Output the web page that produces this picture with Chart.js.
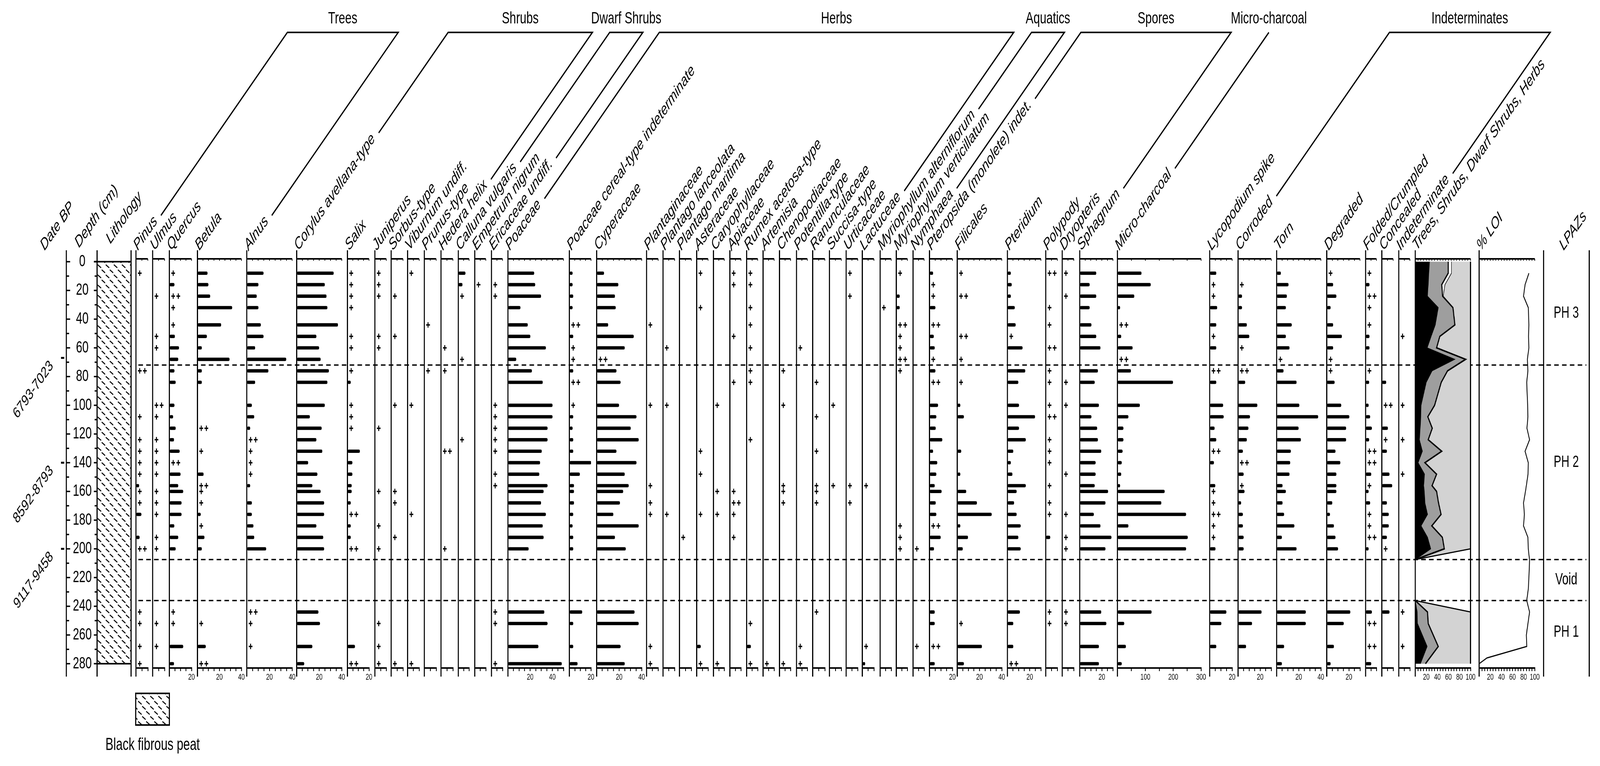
<!DOCTYPE html>
<html>
<head>
<meta charset="utf-8">
<script src="https://cdn.jsdelivr.net/npm/chart.js@4.4.1/dist/chart.umd.min.js"></script>
<style>
html, body { margin: 0; padding: 0; background: #fff; overflow: hidden; }
#stage { position: relative; overflow: hidden; }
#wrap { position: absolute; left: 0; top: 0; width: 5932px; height: 1962px; overflow: hidden; transform-origin: 0 0; }
#wrap canvas { position: absolute; z-index: 1; }
#labels { position: absolute; left: 0; top: 0; z-index: 2; }
</style>
</head>
<body>
<div id="stage"><div id="wrap"><svg id="labels" xmlns="http://www.w3.org/2000/svg" width="5932" height="1962"></svg></div></div>
<script>
// '+' = present (<1%), '++' = two finds, _ = not recorded
const P = '+', PP = '++', _ = 0;

const depths = [8,16,24,32,44,52,60,68,76,84,100,108,116,124,132,140,148,156,160,168,176,184,192,200,244,252,268,280];

const pinus = [P,_,_,_,_,_,_,_,PP,_, _,P,_,P,P,P,P,2.6,P,P, 4.5,_,3.0,PP,P,P,P,P];
const ulmus = [_,_,P,_,_,P,P,_,_,_, PP,P,_,P,P,P,P,_,P,P, P,_,P,P,_,P,P,_];
const quercus = [P,4.5,PP,P,P,4.9,8.6,7.9,4.5,5.6, 4.5,3.3,5.6,4.1,9.2,PP,10,7.9,12.4,10.9, 10.9,4.4,7.9,5.6,P,P,12.4,4.1];
const betula = [9.1,9.9,11.5,31.5,21.5,8.5,3.9,29.1,3.9,3.9, _,_,PP,_,P,_,5.5,PP,P,P, 2.9,P,6.3,3.9,_,P,7.5,PP];
const alnus = [14.7,10.2,8.7,10.2,12.3,14.7,7.3,34.7,19,7.3, 4.4,6.5,2.9,PP,P,P,P,2.9,_,4.4, 4.4,5.8,6.5,17,PP,P,P,_];
const corylus = [32.8,24.9,26.4,27.2,36.6,17.4,19.8,21.2,28.5,27.2, 24.9,11.6,22.1,17.4,22.7,10.1,18.3,13.8,21.2,24.3, 24.3,17.4,23.5,24.3,19.2,20.6,13.8,6.6];
const salix = [P,P,P,P,_,P,P,_,P,3.0, P,P,P,_,11.5,4.5,4.5,3.9,3.9,3.0, PP,3.0,3.0,PP,_,_,6.9,PP];
const juniperus = [P,P,P,_,_,P,P,_,_,_, _,_,P,_,_,_,_,_,P,_, _,P,_,P,_,P,P,P];
const sorbus = [_,_,P,_,_,P,_,_,_,_, P,_,_,_,_,_,_,_,P,P, _,_,P,_,_,_,_,P];
const viburnum = [P,_,_,_,_,_,_,_,_,_, P,_,_,_,_,_,_,_,_,_, P,_,_,_,_,_,_,P];
const prunus = [_,_,_,_,P,_,_,_,P,_, _,_,_,_,_,_,_,_,_,_, _,_,_,_,_,_,_,_];
const hedera = [_,_,_,_,_,_,P,_,P,_, _,_,_,_,PP,_,_,_,_,_, _,_,_,P,_,_,_,_];
const calluna = [6.6,3.8,P,_,_,_,_,P,_,_, _,_,_,P,_,_,_,_,_,_, _,_,_,_,_,_,_,_];
const empetrum = [_,P,_,_,_,_,_,_,_,_, _,_,_,_,_,_,_,_,_,_, _,_,_,_,_,_,_,_];
const ericaceae = [_,P,P,_,_,_,_,_,_,_, P,P,P,P,P,_,P,P,_,_, _,_,_,_,P,P,_,P];
const poaceae = [23.6,24.5,29.8,11.2,17.8,20.1,34.1,7.4,21.5,31.3, 40.1,40.1,35.6,35.6,30.4,28.9,28.2,35.6,32.1,29.8, 34.1,31.3,32.1,18.6,32.7,35.6,27.4,48.4];
const cereal = [2.9,2.9,3.5,2.9,PP,3.5,P,P,3.5,PP, P,3.5,2.9,3.5,3.5,20.2,9.6,4.2,4.2,4.2, 3.5,2.9,3.5,3.5,11.8,3.5,3.5,7.5];
const cyperaceae = [6.5,19.2,16.2,16.9,10.2,32.9,24.9,PP,17.5,21.2, 19.8,35.3,30.2,37.3,17.5,35.3,24.9,28.4,23.5,20.6, 14.8,37.3,16.2,25.8,33.6,37.3,21.2,24.9];
const plantaginaceae = [_,_,_,_,P,_,_,_,_,_, P,_,_,_,_,_,_,P,_,P, P,_,_,_,_,_,P,P];
const plantagoLanc = [_,_,_,_,_,_,P,_,_,_, P,_,_,_,_,_,_,_,_,_, P,_,_,_,_,_,_,_];
const plantagoMar = [_,_,_,_,_,_,_,_,_,_, _,_,_,_,_,_,_,_,_,_, _,_,P,_,_,_,_,_];
const asteraceae = [P,_,_,P,_,_,_,_,_,_, _,_,_,_,P,_,P,_,_,_, P,_,_,_,_,_,3.5,P];
const caryophyllaceae = [_,_,_,_,_,_,_,_,_,_, P,_,_,_,_,_,_,_,P,_, P,_,_,_,_,_,_,P];
const apiaceae = [P,P,_,_,_,P,_,_,_,P, _,_,_,_,_,_,_,_,P,PP, P,_,P,_,_,_,_,_];
const rumex = [P,P,_,P,P,_,P,_,P,P, _,_,_,P,_,_,_,_,_,_, _,_,_,_,_,P,3.8,P];
const artemisia = [_,_,_,_,_,_,_,_,_,_, _,_,_,_,_,_,_,_,_,_, _,_,_,_,_,_,_,P];
const chenopodiaceae = [_,_,_,_,_,_,_,_,P,_, P,_,_,_,_,_,_,P,P,P, _,_,_,_,_,_,_,P];
const potentilla = [_,_,_,_,_,_,P,_,_,_, _,_,_,_,_,_,_,_,_,_, _,_,_,_,_,_,P,P];
const ranunculaceae = [_,_,_,_,_,_,_,_,_,P, _,P,_,_,P,_,_,P,P,P, _,_,_,_,P,_,_,_];
const succisa = [_,_,_,_,_,_,_,_,_,_, P,_,_,_,_,_,_,P,_,_, _,_,_,_,_,_,_,_];
const urticaceae = [P,_,P,_,_,_,_,_,_,_, _,_,_,_,_,_,_,P,_,P, _,_,_,_,_,_,_,_];
const lactuceae = [_,_,_,_,_,_,_,_,_,_, _,_,_,_,_,_,_,P,_,_, _,_,_,_,_,_,P,2.4];
const myrAlt = [_,_,_,P,_,_,_,_,_,_, _,_,_,_,_,_,_,_,_,_, _,_,_,_,_,_,_,_];
const myrVert = [P,_,3.0,3.0,PP,P,P,PP,P,_, _,_,_,_,_,_,_,_,_,_, _,P,P,P,_,_,_,_];
const nymphaea = [_,_,_,_,_,_,_,_,_,_, _,_,_,_,_,_,_,_,_,_, _,_,_,P,_,_,P,_];
const pteropsida = [3.1,P,P,5.1,PP,3.7,4.5,P,5.1,PP, 7.4,5.9,5.4,11.1,3.1,6.7,5.9,4.5,10.5,5.4, 5.9,PP,9.7,3.9,4.5,4.5,PP,4.5];
const filicales = [P,_,PP,_,_,PP,_,P,_,P, 2.7,5.9,_,_,3.5,_,2.7,_,8.0,17.6, 30.9,2.7,9.6,4.9,_,P,22.1,5.9];
const pteridium = [3.0,3.8,3.0,6.5,7.3,P,13.5,_,15.9,9.7, 10.3,24.7,10.3,16.4,5.2,3.0,4.4,16.4,8.2,5.9, 8.2,11.8,9.7,11.8,11.1,5.2,5.2,PP];
const polypody = [PP,_,_,P,P,_,PP,_,P,P, P,PP,_,P,P,P,_,P,_,P, P,_,3.8,_,P,P,_,_];
const dryopteris = [P,_,P,_,_,_,_,_,_,P, P,_,_,_,_,_,P,_,_,_, P,_,P,P,P,P,_,_];
const sphagnum = [14.9,8.9,14.9,8.9,10.5,14.9,18.7,_,16.4,13.5, 17.3,10.5,15.7,16.4,19.4,14.3,14.3,13.5,25.6,23.2, 12.7,18.7,28.6,23.2,19.4,24.0,17.3,17.3];
const charcoal = [86,119,60,9,PP,13,54,PP,48,199, 80,39,21,21,18,15,13,9,169,157, 246,39,252,246,122,24,30,15];
const lycopodium = [5.8,P,P,6.6,5.8,P,5.8,_,PP,5.8, 11.9,12.4,4.3,5.8,PP,3.7,_,4.9,P,P, PP,P,P,5.1,14.8,10.3,5.8,_];
const corroded = [_,P,3.5,3.5,7.9,10.1,P,_,PP,6.4, 17.4,10.7,9.3,7.9,4.3,PP,5.0,P,5.8,2.7, 4.3,4.3,5.0,5.0,21.2,12.6,7.2,_];
const torn = [3.8,10.7,9.2,8.3,13.6,8.3,11.6,P,6.2,18.0, 20.5,37.5,19.8,21.9,12.8,12.2,11.6,5.3,8.3,5.3, 6.7,16.0,4.7,18.0,26.3,26.3,6.7,4.7];
const degraded = [P,5.7,8.6,3.4,5.7,13.6,5.7,P,P,7.0, 13.0,20.3,17.4,17.4,7.8,12.2,8.6,8.6,8.6,4.9, 2.8,6.4,7.8,10.1,21.2,15.3,6.4,3.4];
const folded = [P,3.5,PP,P,P,3.5,3.5,_,P,3.2, 2.7,4.1,5.7,3.2,PP,PP,5.1,P,2.7,4.1, P,P,PP,2.7,5.7,PP,PP,5.1];
const concealed = [_,_,_,_,_,_,_,_,_,3.8, PP,_,5.3,P,4.4,_,6.7,9.1,_,4.4, 6.1,6.1,4.4,P,6.7,_,_,_];
const indeterminate = [_,_,_,_,_,P,_,_,_,_, P,_,_,P,_,_,P,_,_,_, _,_,_,_,P,_,P,_];

// summary diagram, cumulative %: Trees | + Shrubs | + Dwarf Shrubs | + Herbs
const summaryDepths = [0,8,16,24,32,44,52,60,68,76,84,100,108,116,124,132,140,148,156,160,168,176,184,192,200,207.5,236,244,252,268,280];
const treesCum  = [25.7,24.5,23.4,22,41.6,36.2,28.7,21.5,71.3,30.4,19.9,10.5,10,8.9,7.5,12.9,5.1,16.8,15.2,16.4,17.5,22.2,10.5,22.2,28,0,0,3.5,4,21.5,9.3];
const shrubsCum = [59.6,59.6,47.9,49.5,68.2,71.7,44.4,38.6,91.1,58.4,47,35,22.7,30.8,23.4,47.9,17.5,38.6,30.4,38.6,42.1,46.7,29.9,49.1,52.6,0,0,22.2,23.4,41.6,18.5];
const dwarfCum  = [65.4,65.4,53.7,50.5,68.5,71.9,44.6,38.8,91.5,58.6,47.2,35.3,23,31,23.6,48.1,17.7,38.8,30.6,38.8,42.3,46.9,30.1,49.3,52.8,0,0,22.4,23.6,41.8,18.7];
const herbsCum  = [100,100,100,100,100,100,100,100,100,100,100,100,100,100,100,100,100,100,100,100,100,100,100,100,100,0,0,100,100,100,100];

const loiDepths = [8,16,24,32,44,52,60,68,76,84,100,108,116,124,132,140,148,156,160,168,176,184,192,200,208,220,228,236,244,260,268,276,280];
const loi = [89.5,82.6,79.8,88.4,89.5,88.8,89.5,86.7,87.7,85.6,87.2,87.7,86.0,90.7,82.6,88.4,87.9,84.9,83.3,79.8,81.4,79.8,87.7,88.4,90.7,89.5,88.4,85.6,90.7,84.9,85.6,14,0];

const depthTicks = [0,20,40,60,80,100,120,140,160,180,200,220,240,260,280];
const dateDepths = [67, 140, 200];
const dateLabels = ['6793-7023', '8592-8793', '9117-9458'];
const zoneBounds = [72, 207.5, 236];
const zoneNames = ['PH 3', 'PH 2', 'Void', 'PH 1'];

const taxa = ['Pinus','Ulmus','Quercus','Betula','Alnus','Corylus avellana-type','Salix','Juniperus','Sorbus-type',
  'Viburnum undiff.','Prunus-type','Hedera helix','Calluna vulgaris','Empetrum nigrum','Ericaceae undiff.','Poaceae',
  'Poaceae cereal-type indeterminate','Cyperaceae','Plantaginaceae','Plantago lanceolata','Plantago maritima','Asteraceae',
  'Caryophyllaceae','Apiaceae','Rumex acetosa-type','Artemisia','Chenopodiaceae','Potentilla-type','Ranunculaceae',
  'Succisa-type','Urticaceae','Lactuceae','Myriophyllum alterniflorum','Myriophyllum verticillatum','Nymphaea',
  'Pteropsida (monolete) indet.','Filicales','Pteridium','Polypody','Dryopteris','Sphagnum','Micro-charcoal',
  'Lycopodium spike','Corroded','Torn','Degraded','Folded/Crumpled','Concealed','Indeterminate'];
const series = [pinus, ulmus, quercus, betula, alnus, corylus, salix, juniperus, sorbus, viburnum, prunus, hedera,
  calluna, empetrum, ericaceae, poaceae, cereal, cyperaceae, plantaginaceae, plantagoLanc, plantagoMar, asteraceae,
  caryophyllaceae, apiaceae, rumex, artemisia, chenopodiaceae, potentilla, ranunculaceae, succisa, urticaceae, lactuceae,
  myrAlt, myrVert, nymphaea, pteropsida, filicales, pteridium, polypody, dryopteris, sphagnum, charcoal, lycopodium,
  corroded, torn, degraded, folded, concealed, indeterminate];
const panelMax = [10,10,20,40,40,40,20, 10,10,10,10,10,10,10,10, 50,20,40,
  10,10,10,10,10,10,10,10,10,10,10,10,10,10,10,10,10, 20,40,30,10,10,30,300,20,30,40,30,10,10,10];

const groups = [
  {title: 'Trees', first: 0, last: 4},
  {title: 'Shrubs', first: 5, last: 11},
  {title: 'Dwarf Shrubs', first: 12, last: 14},
  {title: 'Herbs', first: 15, last: 31},
  {title: 'Aquatics', first: 32, last: 34},
  {title: 'Spores', first: 35, last: 40},
  {title: 'Micro-charcoal', first: 41, last: 41},
  {title: 'Indeterminates', first: 43, last: 48}
];

// ---- layout (design pixels, 5932 x 1962) ----
const panelLeft = [504,566,628,732,915,1100,1288,1390,1450,1511,1573,1635,1699,1760,1822,1883,2111,2212,
  2397,2458,2519,2583,2645,2706,2768,2829,2890,2953,3013,3075,3137,3197,3263,3323,3385,
  3446,3549,3735,3877,3938,4003,4143,4485,4590,4733,4919,5063,5123,5186];
const panelWidth = [44,44,82,163,168,167,80, 42,44,43,44,44,40,41,41, 206,80,167,
  43,43,44,42,40,41,41,41,41,40,45,44,43,43,41,41,41, 85,165,124,43,43,123,310,83,123,164,123,40,42,41];

const DESIGN_W = 5932, DESIGN_H = 1962;
const AREA_TOP = 663, AREA_BOTTOM = 1711, Y_MIN = -2, Y_MAX = 283;
const CAN_TOP = 600, CAN_H = 1200, X_AXIS_H = 45, PADL = 20, PADR = 28;
const PLUS1 = 14, PLUS2 = 33;
const FONT = '"Liberation Sans", Arial, sans-serif';

Chart.defaults.font.family = FONT;
Chart.defaults.color = '#000';

const stage = document.getElementById('stage');
const wrap = document.getElementById('wrap');
const svg = document.getElementById('labels');
const svgNS = 'http://www.w3.org/2000/svg';

// the window may be narrower than asked for: stretch the 5932x1962 design over it
function fitPage() {
    const vw = window.innerWidth || DESIGN_W;
    const vh = window.innerHeight || DESIGN_H;
    const sx = vw / DESIGN_W, sy = vh / DESIGN_H;
    wrap.style.transform = `scale(${sx}, ${sy})`;
    stage.style.width = vw + 'px';
    stage.style.height = vh + 'px';
}
fitPage();

function makeCanvas(x, y, w, h) {
    const c = document.createElement('canvas');
    c.width = w;
    c.height = h;
    c.style.left = x + 'px';
    c.style.top = y + 'px';
    c.style.width = w + 'px';
    c.style.height = h + 'px';
    wrap.insertBefore(c, svg);
    return c;
}

function strokeLine(ctx, x1, y1, x2, y2) {
    ctx.beginPath();
    ctx.moveTo(x1, y1);
    ctx.lineTo(x2, y2);
    ctx.stroke();
}

// axis line on the left, top line with small ticks
const framePlugin = {
    id: 'frame',
    afterDraw(chart, args, opts) {
        const {ctx, chartArea: a} = chart;
        const x = chart.scales.x, y = chart.scales.y;
        ctx.save();
        ctx.strokeStyle = '#000';
        ctx.lineWidth = 4;
        strokeLine(ctx, a.left, a.top - 22, a.left, a.bottom + 22);
        strokeLine(ctx, a.left - 2, a.top, a.right, a.top);
        ctx.lineWidth = 2.5;
        x.ticks.forEach(t => {
            const px = x.getPixelForValue(t.value);
            strokeLine(ctx, px, a.top, px, a.top + 5);
        });
        if (opts.right) {
            ctx.lineWidth = 4;
            const px = x.getPixelForValue(x.max);
            strokeLine(ctx, px, y.getPixelForValue(opts.right[0]), px, y.getPixelForValue(opts.right[1]));
        }
        ctx.restore();
    }
};

function panelOptions(max, frameOpts) {
    const step = max >= 300 ? 50 : 5;
    const labelEvery = max >= 300 ? 100 : 20;
    return {
        indexAxis: 'y',
        responsive: false,
        devicePixelRatio: 1,
        animation: false,
        events: [],
        layout: {padding: {top: AREA_TOP - CAN_TOP, bottom: CAN_H - (AREA_BOTTOM - CAN_TOP) - X_AXIS_H, left: PADL, right: PADR}},
        plugins: {legend: {display: false}, tooltip: {enabled: false}, frame: frameOpts || {}},
        elements: {point: {radius: 0}, line: {tension: 0}},
        scales: {
            x: {
                type: 'linear', min: 0, max: max, position: 'bottom', offset: false,
                grid: {display: true, drawOnChartArea: false, drawTicks: true, tickLength: 8, lineWidth: 3, color: '#000'},
                border: {display: true, width: 4, color: '#000'},
                ticks: {
                    stepSize: step, includeBounds: false, autoSkip: false, maxRotation: 0, minRotation: 0,
                    padding: 3, color: '#000', font: {size: 22},
                    callback: v => (v > 0 && v % labelEvery === 0) ? String(v) : ''
                },
                afterFit: s => { s.height = X_AXIS_H; s.paddingLeft = 0; s.paddingRight = 0; }
            },
            y: {type: 'linear', min: Y_MIN, max: Y_MAX, reverse: true, display: false, offset: false}
        }
    };
}

function makePanel(i) {
    const max = panelMax[i], w = panelWidth[i];
    const pxPerUnit = w / max;
    const bars = [], plus = [];
    series[i].forEach((v, j) => {
        const d = depths[j];
        if (typeof v === 'number' && v > 0) {
            bars.push({x: v, y: d});
        } else if (v === P) {
            plus.push({x: PLUS1 / pxPerUnit, y: d});
        } else if (v === PP) {
            plus.push({x: PLUS1 / pxPerUnit, y: d});
            plus.push({x: PLUS2 / pxPerUnit, y: d});
        }
    });
    const cv = makeCanvas(panelLeft[i] - PADL, CAN_TOP, w + PADL + PADR, CAN_H);
    new Chart(cv, {
        type: 'bar',
        data: {
            datasets: [
                {type: 'bar', data: bars, backgroundColor: '#000', barThickness: 8, borderRadius: 4, borderSkipped: false},
                {type: 'scatter', data: plus, pointStyle: 'cross', pointRadius: 7, borderColor: '#000', borderWidth: 3.5}
            ]
        },
        options: panelOptions(max),
        plugins: [framePlugin]
    });
}

function makeSummary() {
    const left = 5247, w = 205;
    const pts = arr => summaryDepths.map((d, i) => ({x: arr[i], y: d}));
    const cv = makeCanvas(left - PADL, CAN_TOP, w + PADL + PADR, CAN_H);
    new Chart(cv, {
        type: 'line',
        data: {
            datasets: [
                {data: pts(treesCum), fill: 'origin', backgroundColor: '#000', borderColor: '#000', borderWidth: 2, pointRadius: 0},
                {data: pts(shrubsCum), fill: '-1', backgroundColor: '#9e9e9e', borderColor: '#000', borderWidth: 4, pointRadius: 0},
                {data: pts(dwarfCum), fill: '-1', backgroundColor: '#ffffff', borderColor: '#000', borderWidth: 2, pointRadius: 0},
                {data: pts(herbsCum), fill: '-1', backgroundColor: '#d3d3d3', borderColor: '#000', borderWidth: 3, pointRadius: 0}
            ]
        },
        options: panelOptions(100, {right: [0, 280]}),
        plugins: [framePlugin]
    });
}

function makeLoi() {
    const left = 5484, w = 206;
    const cv = makeCanvas(left - PADL, CAN_TOP, w + PADL + PADR, CAN_H);
    new Chart(cv, {
        type: 'line',
        data: {
            datasets: [{
                data: loiDepths.map((d, i) => ({x: loi[i], y: d})),
                borderColor: '#000', borderWidth: 3, pointRadius: 0, fill: false
            }]
        },
        options: panelOptions(100),
        plugins: [framePlugin]
    });
}

function hatchPattern(ctx) {
    const c = document.createElement('canvas');
    c.width = 30;
    c.height = 26;
    const g = c.getContext('2d');
    g.strokeStyle = '#000';
    g.lineWidth = 3;
    g.beginPath();
    g.moveTo(2, 2); g.lineTo(15, 10);
    g.moveTo(17, 15); g.lineTo(30, 23);
    g.stroke();
    return ctx.createPattern(c, 'repeat');
}

// depth axis, lithology, date ticks, zones
const basePlugin = {
    id: 'baseDecor',
    afterDraw(chart) {
        const {ctx} = chart;
        const y = chart.scales.y;
        const py = d => y.getPixelForValue(d);
        ctx.save();
        ctx.strokeStyle = '#000';
        ctx.fillStyle = '#000';

        // lithology column
        const pat = hatchPattern(ctx);
        ctx.fillStyle = pat;
        ctx.fillRect(362, py(0), 122, py(280) - py(0));
        ctx.fillStyle = '#000';
        ctx.lineWidth = 4;
        strokeLine(ctx, 349, py(0), 486, py(0));
        strokeLine(ctx, 360, py(280), 486, py(280));

        // legend swatch
        ctx.fillStyle = pat;
        ctx.fillRect(503, 1776, 125, 81);
        ctx.fillStyle = '#000';
        ctx.strokeRect(503, 1776, 125, 81);

        // full-height column lines
        [246, 360, 486, 5723, 5892].forEach(xx => strokeLine(ctx, xx, AREA_TOP - 22, xx, AREA_BOTTOM + 22));

        // depth ticks
        ctx.lineWidth = 3.5;
        for (let d = 0; d <= 280; d += 10) {
            const major = d % 20 === 0;
            strokeLine(ctx, 246, py(d), 246 + (major ? 14 : 10), py(d));
            strokeLine(ctx, 360, py(d), 360 - (major ? 12 : 9), py(d));
        }
        ctx.font = '42px ' + FONT;
        ctx.textAlign = 'center';
        ctx.textBaseline = 'middle';
        depthTicks.forEach(d => ctx.fillText(String(d), 305, py(d)));

        // date labels
        ctx.font = '40px ' + FONT;
        ctx.textAlign = 'right';
        ctx.textBaseline = 'alphabetic';
        dateDepths.forEach((d, i) => {
            ctx.save();
            ctx.translate(199, py(d) + 22);
            ctx.rotate(-Math.PI / 4);
            ctx.fillText(dateLabels[i], 0, 0);
            ctx.restore();
        });

        // zone names
        const edges = [0].concat(zoneBounds, [280]);
        ctx.font = '42px ' + FONT;
        ctx.textAlign = 'center';
        ctx.textBaseline = 'middle';
        zoneNames.forEach((z, i) => ctx.fillText(z, 5807, py((edges[i] + edges[i + 1]) / 2)));
        ctx.restore();
    }
};

function makeBase() {
    const cv = makeCanvas(0, 0, DESIGN_W, DESIGN_H);
    const datasets = [{
        type: 'scatter',
        data: dateDepths.map(d => ({x: 222, y: d})),
        pointStyle: 'line', pointRadius: 6, borderWidth: 5, borderColor: '#000'
    }];
    zoneBounds.forEach(b => datasets.push({
        type: 'line',
        data: [{x: 504, y: b}, {x: 5892, y: b}],
        borderColor: '#000', borderWidth: 3.5, borderDash: [17, 12], pointRadius: 0, fill: false
    }));
    new Chart(cv, {
        type: 'line',
        data: {datasets},
        options: {
            responsive: false, devicePixelRatio: 1, animation: false, events: [],
            layout: {padding: {top: AREA_TOP, bottom: DESIGN_H - AREA_BOTTOM, left: 0, right: 0}},
            plugins: {legend: {display: false}, tooltip: {enabled: false}},
            scales: {
                x: {type: 'linear', min: 0, max: DESIGN_W, display: false},
                y: {type: 'linear', min: Y_MIN, max: Y_MAX, reverse: true, display: false}
            }
        },
        plugins: [basePlugin]
    });
}

// ---- text labels and group brackets ----
function addText(str, x, y, size, italic, rotate, anchor) {
    const t = document.createElementNS(svgNS, 'text');
    t.setAttribute('x', x);
    t.setAttribute('y', y);
    t.setAttribute('font-family', FONT);
    t.setAttribute('font-size', size);
    if (italic) t.setAttribute('font-style', 'italic');
    t.setAttribute('text-anchor', anchor || 'start');
    if (rotate) t.setAttribute('transform', `rotate(${rotate} ${x} ${y})`);
    t.textContent = str;
    svg.appendChild(t);
}

function addPolyline(points) {
    const p = document.createElementNS(svgNS, 'polyline');
    p.setAttribute('points', points.map(q => q.join(',')).join(' '));
    p.setAttribute('fill', 'none');
    p.setAttribute('stroke', '#000');
    p.setAttribute('stroke-width', 4);
    p.setAttribute('stroke-linejoin', 'miter');
    svg.appendChild(p);
}

const LABEL_Y = 643, BRACKET_Y = 83, R = Math.SQRT1_2;
const measure = document.createElement('canvas').getContext('2d');
measure.font = 'italic 42px ' + FONT;

function drawLabels() {
    const ends = [];
    taxa.forEach((name, i) => {
        const sx = panelLeft[i] + 7;
        addText(name, sx, LABEL_Y, 42, true, -45);
        const L = measure.measureText(name).width;
        const ex = sx + L * R, ey = LABEL_Y - L * R;
        ends.push([ex + 16 * R, ey - 24 * R]);
    });
    addText('Date BP', 165, 643, 42, true, -45);
    addText('Depth (cm)', 293, 636, 42, true, -45);
    addText('Lithology', 409, 626, 42, true, -45);
    addText('Trees, Shrubs, Dwarf Shrubs, Herbs', 5253, 643, 42, true, -45);
    addText('% LOI', 5491, 643, 42, true, -45);
    addText('LPAZs', 5797, 643, 42, true, -45);
    addText('Black fibrous peat', 566, 1921, 44, false, 0, 'middle');

    const top = b => [b[0] + (b[1] - BRACKET_Y), BRACKET_Y];
    groups.forEach(g => {
        const b1 = ends[g.first], b2 = ends[g.last];
        const t1 = top(b1), t2 = top(b2);
        if (g.first === g.last) addPolyline([b1, t1]);
        else addPolyline([b1, t1, t2, b2]);
        addText(g.title, (t1[0] + t2[0]) / 2, 60, 43, false, 0, 'middle');
    });
}

makeBase();
taxa.forEach((t, i) => makePanel(i));
makeSummary();
makeLoi();
drawLabels();
</script>
</body>
</html>
